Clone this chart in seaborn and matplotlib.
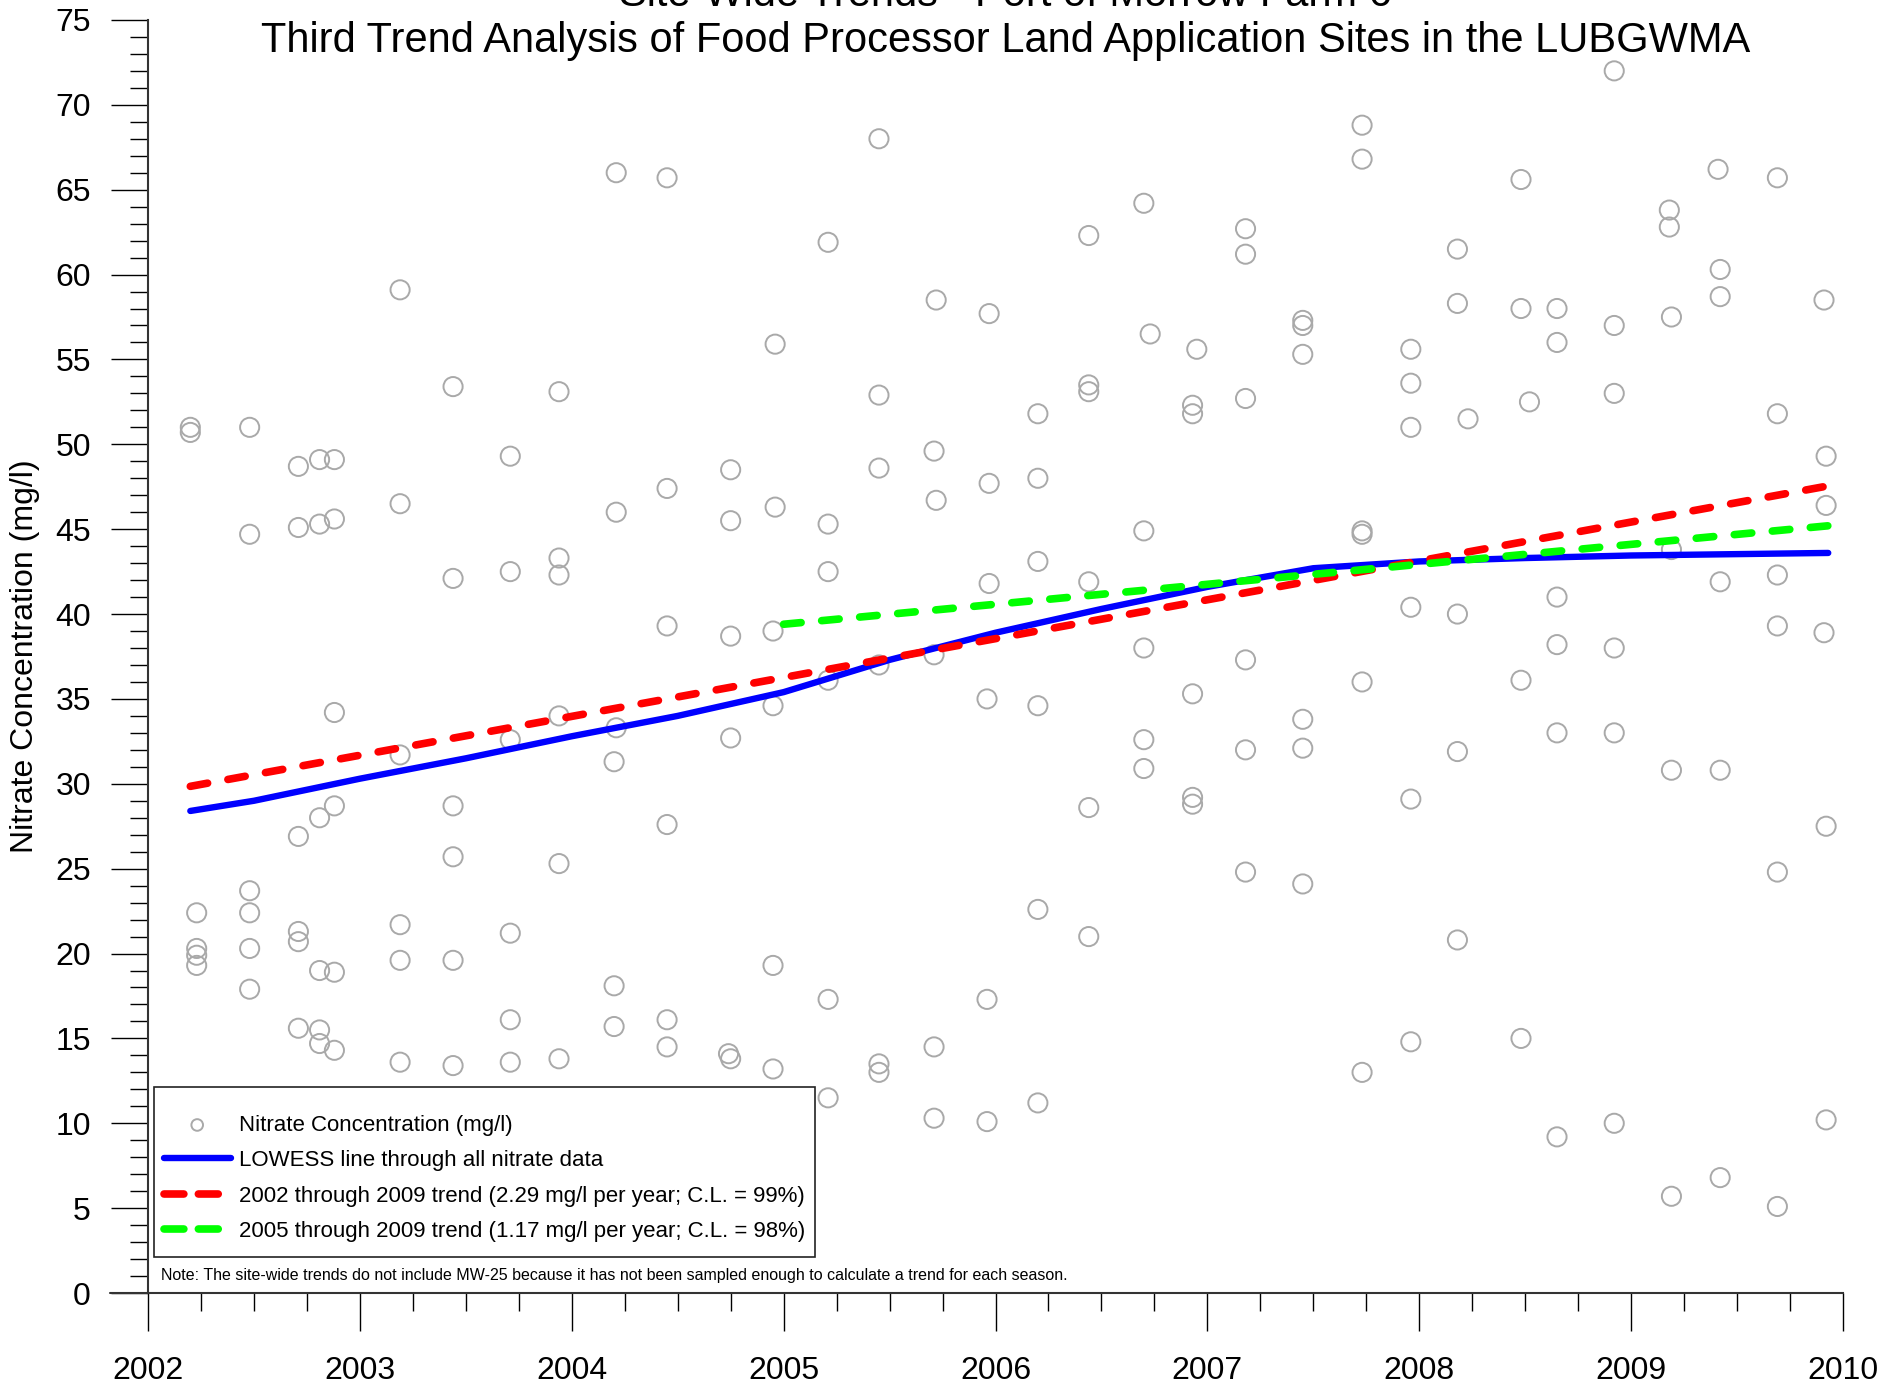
import numpy as np
import pandas as pd
import seaborn as sns
import matplotlib.pyplot as plt
from matplotlib.patches import Rectangle
from matplotlib.ticker import MultipleLocator

sns.set_style("white")
plt.rcParams['font.family'] = ['Liberation Sans', 'DejaVu Sans']
plt.rcParams['text.color'] = 'black'
plt.rcParams['axes.labelcolor'] = 'black'
plt.rcParams['xtick.color'] = 'black'
plt.rcParams['ytick.color'] = 'black'

# Nitrate samples (decimal year, mg/l)
sample_year = [
    2002.20, 2002.20, 2002.23, 2002.23, 2002.23, 2002.23,
    2002.48, 2002.48, 2002.48, 2002.48, 2002.48, 2002.48,
    2002.71, 2002.71, 2002.71, 2002.71, 2002.71, 2002.71,
    2002.81, 2002.81, 2002.81, 2002.81, 2002.81, 2002.81,
    2002.88, 2002.88, 2002.88, 2002.88, 2002.88, 2002.88,
    2003.19, 2003.19, 2003.19, 2003.19, 2003.19, 2003.19,
    2003.44, 2003.44, 2003.44, 2003.44, 2003.44, 2003.44,
    2003.71, 2003.71, 2003.71, 2003.71, 2003.71, 2003.71,
    2003.94, 2003.94, 2003.94, 2003.94, 2003.94, 2003.94,
    2004.21, 2004.21, 2004.21, 2004.20, 2004.20, 2004.20,
    2004.45, 2004.45, 2004.45, 2004.45, 2004.45, 2004.45,
    2004.75, 2004.75, 2004.75, 2004.75, 2004.74, 2004.75,
    2004.96, 2004.96, 2004.95, 2004.95, 2004.95, 2004.95,
    2005.21, 2005.21, 2005.21, 2005.21, 2005.21, 2005.21,
    2005.45, 2005.45, 2005.45, 2005.45, 2005.45, 2005.45,
    2005.72, 2005.71, 2005.72, 2005.71, 2005.71, 2005.71,
    2005.97, 2005.97, 2005.97, 2005.96, 2005.96, 2005.96,
    2006.20, 2006.20, 2006.20, 2006.20, 2006.20, 2006.20,
    2006.44, 2006.44, 2006.44, 2006.44, 2006.44, 2006.44,
    2006.70, 2006.73, 2006.70, 2006.70, 2006.70, 2006.70,
    2006.95, 2006.93, 2006.93, 2006.93, 2006.93, 2006.93,
    2007.18, 2007.18, 2007.18, 2007.18, 2007.18, 2007.18,
    2007.45, 2007.45, 2007.45, 2007.45, 2007.45, 2007.45,
    2007.73, 2007.73, 2007.73, 2007.73, 2007.73, 2007.73,
    2007.96, 2007.96, 2007.96, 2007.96, 2007.96, 2007.96,
    2008.18, 2008.18, 2008.23, 2008.18, 2008.18, 2008.18,
    2008.48, 2008.48, 2008.52, 2008.48, 2008.48,
    2008.65, 2008.65, 2008.65, 2008.65, 2008.65, 2008.65,
    2008.92, 2008.92, 2008.92, 2008.92, 2008.92, 2008.92,
    2009.18, 2009.18, 2009.19, 2009.19, 2009.19, 2009.19,
    2009.41, 2009.42, 2009.42, 2009.42, 2009.42, 2009.42,
    2009.69, 2009.69, 2009.69, 2009.69, 2009.69, 2009.69,
    2009.91, 2009.92, 2009.92, 2009.91, 2009.92, 2009.92,
]
nitrate = [
    51.0, 50.7, 22.4, 20.3, 19.9, 19.3,
    51.0, 44.7, 23.7, 22.4, 20.3, 17.9,
    48.7, 45.1, 26.9, 21.3, 20.7, 15.6,
    49.1, 45.3, 28.0, 19.0, 15.5, 14.7,
    49.1, 45.6, 34.2, 28.7, 18.9, 14.3,
    59.1, 46.5, 31.7, 21.7, 19.6, 13.6,
    53.4, 42.1, 28.7, 25.7, 19.6, 13.4,
    49.3, 42.5, 32.6, 21.2, 16.1, 13.6,
    53.1, 43.3, 42.3, 34.0, 25.3, 13.8,
    66.0, 46.0, 33.3, 31.3, 18.1, 15.7,
    65.7, 47.4, 39.3, 27.6, 16.1, 14.5,
    48.5, 45.5, 38.7, 32.7, 14.1, 13.8,
    55.9, 46.3, 39.0, 34.6, 19.3, 13.2,
    61.9, 45.3, 42.5, 36.1, 17.3, 11.5,
    68.0, 52.9, 48.6, 37.0, 13.5, 13.0,
    58.5, 49.6, 46.7, 37.6, 14.5, 10.3,
    57.7, 47.7, 41.8, 35.0, 17.3, 10.1,
    51.8, 48.0, 43.1, 34.6, 22.6, 11.2,
    62.3, 53.5, 53.1, 41.9, 28.6, 21.0,
    64.2, 56.5, 44.9, 38.0, 32.6, 30.9,
    55.6, 52.3, 51.8, 35.3, 29.2, 28.8,
    62.7, 61.2, 52.7, 37.3, 32.0, 24.8,
    57.3, 57.0, 55.3, 33.8, 32.1, 24.1,
    68.8, 66.8, 44.9, 44.7, 36.0, 13.0,
    55.6, 53.6, 51.0, 40.4, 29.1, 14.8,
    61.5, 58.3, 51.5, 40.0, 31.9, 20.8,
    65.6, 58.0, 52.5, 36.1, 15.0,
    58.0, 56.0, 41.0, 38.2, 33.0, 9.2,
    72.0, 57.0, 53.0, 38.0, 33.0, 10.0,
    63.8, 62.8, 57.5, 43.8, 30.8, 5.7,
    66.2, 60.3, 58.7, 41.9, 30.8, 6.8,
    65.7, 51.8, 42.3, 39.3, 24.8, 5.1,
    58.5, 49.3, 46.4, 38.9, 27.5, 10.2,
]

# LOWESS curve through all data (read at several points)
lowess_year = [2002.20, 2002.5, 2003.0, 2003.5, 2004.0, 2004.5, 2005.0, 2005.5,
               2006.0, 2006.5, 2007.0, 2007.5, 2008.0, 2008.5, 2009.0, 2009.93]
lowess_val = [28.4, 29.0, 30.3, 31.5, 32.8, 34.0, 35.4, 37.3,
              38.9, 40.3, 41.6, 42.7, 43.1, 43.3, 43.45, 43.6]

# linear trends: start / end of each fitted line
trend1_year = [2002.20, 2009.93]
trend1_val = [29.85, 47.55]
trend2_year = [2005.0, 2009.93]
trend2_val = [39.4, 45.2]

legend_labels = [
    "Nitrate Concentration (mg/l)",
    "LOWESS line through all nitrate data",
    "2002 through 2009 trend (2.29 mg/l per year; C.L. = 99%)",
    "2005 through 2009 trend (1.17 mg/l per year; C.L. = 98%)",
]

df = pd.DataFrame({"year": sample_year, "nitrate": nitrate})

fig, ax = plt.subplots(figsize=(19.04, 13.85), dpi=100)
fig.subplots_adjust(left=0.0777, right=0.968, bottom=0.0664, top=0.9856)

sns.scatterplot(data=df, x="year", y="nitrate", ax=ax, s=190, marker="o",
                facecolors="none", edgecolor="#a9a9a9", linewidth=1.4,
                label=legend_labels[0], legend=False, zorder=2)
sns.lineplot(x=lowess_year, y=lowess_val, ax=ax, color="#0000ff", lw=4.6,
             solid_capstyle="round", label=legend_labels[1], legend=False, zorder=3)
sns.lineplot(x=trend1_year, y=trend1_val, ax=ax, color="#ff0000", lw=5.5,
             linestyle=(0, (2.3, 2.7)), dash_capstyle="round",
             label=legend_labels[2], legend=False, zorder=3)
sns.lineplot(x=trend2_year, y=trend2_val, ax=ax, color="#00ff00", lw=5.5,
             linestyle=(0, (2.3, 2.7)), dash_capstyle="round",
             label=legend_labels[3], legend=False, zorder=3)

ax.set_xlim(2002, 2010)
ax.set_ylim(0, 75)
ax.xaxis.set_major_locator(MultipleLocator(1))
ax.xaxis.set_minor_locator(MultipleLocator(0.25))
ax.yaxis.set_major_locator(MultipleLocator(5))
ax.yaxis.set_minor_locator(MultipleLocator(1))

for side in ["top", "right"]:
    ax.spines[side].set_visible(False)
for side in ["left", "bottom"]:
    ax.spines[side].set_color("#333333")
    ax.spines[side].set_linewidth(1.5)
# bottom axis line runs a bit past the y axis
ax.plot([-0.0224, 0], [0, 0], transform=ax.transAxes, color="#333333",
        lw=1.5, clip_on=False)

ax.tick_params(axis="both", which="both", bottom=True, left=True,
               direction="out", color="black", width=1)
ax.tick_params(axis="both", which="major", length=27, labelsize=23)
ax.tick_params(axis="both", which="minor", length=13)
ax.tick_params(axis="y", which="major", pad=14)
ax.tick_params(axis="x", which="major", pad=18)

ax.set_xlabel("")
ax.set_ylabel("Nitrate Concentration (mg/l)", fontsize=23)
ax.yaxis.set_label_coords(-0.0637, 0.5)

# legend box drawn separately so its size can be set exactly
ax.add_patch(Rectangle((0.0035, 0.0283), 0.39, 0.1335, transform=ax.transAxes,
                       facecolor="white", edgecolor="#222222", lw=1.2, zorder=4))

handles, labels = ax.get_legend_handles_labels()
order = [labels.index(l) for l in legend_labels]
leg = ax.legend([handles[i] for i in order], [labels[i] for i in order],
                loc="upper left", bbox_to_anchor=(0.0094, 0.140),
                frameon=False, fontsize=16, borderpad=0, borderaxespad=0,
                labelspacing=0.65, handlelength=3.0, handletextpad=0.4)
leg.set_zorder(5)
leg.legend_handles[0].set_sizes([70])
# two even dashes in the legend keys
for h in leg.legend_handles[2:]:
    h.set_linestyle((0, (2.6, 1.9)))

ax.text(0.0077, 0.0102, "Note: The site-wide trends do not include MW-25 because it has not "
        "been sampled enough to calculate a trend for each season.",
        transform=ax.transAxes, fontsize=11.5, ha="left", va="baseline")

fig.text(0.528, 0.9957, "Site-Wide Trends - Port of Morrow Farm 6",
         ha="center", va="baseline", fontsize=30)
fig.text(0.528, 0.9625, "Third Trend Analysis of Food Processor Land Application Sites in the LUBGWMA",
         ha="center", va="baseline", fontsize=30)

fig.savefig("out.png", dpi=100)
